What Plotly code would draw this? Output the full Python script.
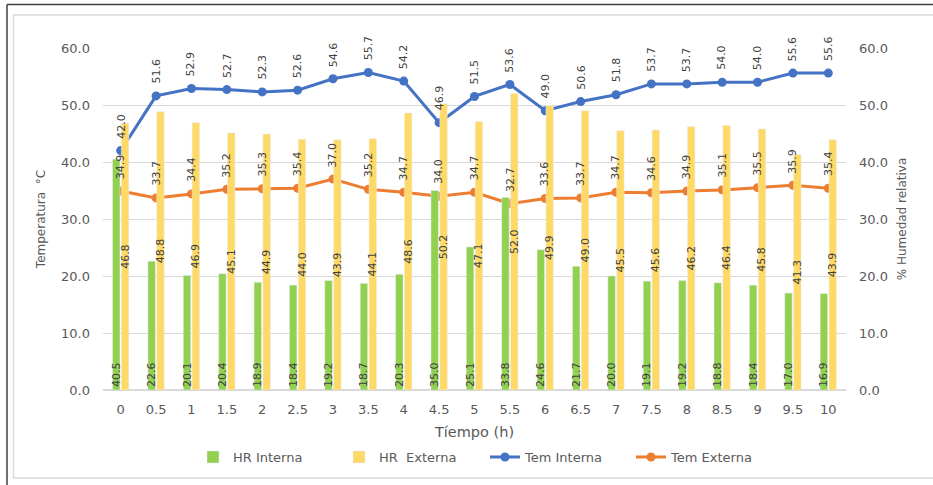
import plotly.graph_objects as go

tiempo = ["0", "0.5", "1", "1.5", "2", "2.5", "3", "3.5", "4", "4.5", "5",
          "5.5", "6", "6.5", "7", "7.5", "8", "8.5", "9", "9.5", "10"]
hr_interna = [40.5, 22.6, 20.1, 20.4, 18.9, 18.4, 19.2, 18.7, 20.3, 35.0, 25.1,
              33.8, 24.6, 21.7, 20.0, 19.1, 19.2, 18.8, 18.4, 17.0, 16.9]
hr_externa = [46.8, 48.8, 46.9, 45.1, 44.9, 44.0, 43.9, 44.1, 48.6, 50.2, 47.1,
              52.0, 49.9, 49.0, 45.5, 45.6, 46.2, 46.4, 45.8, 41.3, 43.9]
tem_interna = [42.0, 51.6, 52.9, 52.7, 52.3, 52.6, 54.6, 55.7, 54.2, 46.9, 51.5,
               53.6, 49.0, 50.6, 51.8, 53.7, 53.7, 54.0, 54.0, 55.6, 55.6]
tem_externa = [34.9, 33.7, 34.4, 35.2, 35.3, 35.4, 37.0, 35.2, 34.7, 34.0, 34.7,
               32.7, 33.6, 33.7, 34.7, 34.6, 34.9, 35.1, 35.5, 35.9, 35.4]

GREEN = "#92D050"
YELLOW = "#FFD966"
BLUE = "#4472C4"
ORANGE = "#ED7D31"
TXT = "#595959"
LBL = "#404040"
FONT = "DejaVu Sans"

fig = go.Figure()

fig.add_trace(go.Bar(
    x=tiempo, y=hr_interna, name="HR Interna", marker_color=GREEN, yaxis="y2",
    text=[f"{v:.1f}" for v in hr_interna], textposition="inside",
    insidetextanchor="start", textangle=-90, constraintext="none",
    insidetextfont=dict(family=FONT, size=11, color=LBL),
))
fig.add_trace(go.Bar(
    x=tiempo, y=hr_externa, name="HR  Externa", marker_color=YELLOW, yaxis="y2",
    text=[f"{v:.1f}" for v in hr_externa], textposition="inside",
    insidetextanchor="middle", textangle=-90, constraintext="none",
    insidetextfont=dict(family=FONT, size=11, color=LBL),
))
fig.add_trace(go.Scatter(
    x=tiempo, y=tem_interna, name="Tem Interna", mode="lines+markers",
    line=dict(color=BLUE, width=3), marker=dict(color=BLUE, size=9),
))
fig.add_trace(go.Scatter(
    x=tiempo, y=tem_externa, name="Tem Externa", mode="lines+markers",
    line=dict(color=ORANGE, width=3), marker=dict(color=ORANGE, size=9),
))

annotations = []
for series in (tem_interna, tem_externa):
    for idx, yv in enumerate(series):
        # category axis: annotation x given as the category index
        annotations.append(dict(
            x=idx, y=yv, xref="x", yref="y", text=f"{yv:.1f}", textangle=-90,
            showarrow=False, yanchor="bottom", xanchor="center", yshift=10,
            font=dict(family=FONT, size=11, color=LBL),
        ))

# frame lines (paper coords)
W, H = 743.0, 342.0
L, T = 103.0, 48.0
def px(xp):
    return (xp - L) / W
def py(yp):
    return (T + H - yp) / H

shapes = [
    dict(type="rect", xref="paper", yref="paper", x0=px(13.5), x1=px(945),
         y0=py(478), y1=py(15), line=dict(color="#D9D9D9", width=1.5),
         fillcolor="rgba(0,0,0,0)", layer="below"),
    dict(type="line", xref="paper", yref="paper", x0=px(7), x1=px(940),
         y0=py(4.5), y1=py(4.5), line=dict(color="#404040", width=1.5)),
    dict(type="line", xref="paper", yref="paper", x0=px(7), x1=px(7),
         y0=py(4.5), y1=py(490), line=dict(color="#404040", width=1.5)),
]

fig.update_layout(
    width=933, height=485,
    margin=dict(l=103, r=87, t=48, b=95, autoexpand=False),
    paper_bgcolor="white", plot_bgcolor="white",
    font=dict(family=FONT, size=13, color=TXT),
    barmode="group", bargap=0.5, bargroupgap=0.16,
    showlegend=True,
    legend=dict(orientation="h", x=px(485), xanchor="center", y=-0.196,
                yanchor="middle", font=dict(family=FONT, size=13, color=TXT),
                itemwidth=30, traceorder="normal",
                entrywidth=101, entrywidthmode="pixels"),
    xaxis=dict(type="category", range=[-0.5, len(tiempo) - 0.5],
               showgrid=False, ticks="", showline=False,
               automargin=False,
               tickfont=dict(size=13, color=TXT), ticklabelstandoff=10,
               title=dict(text="Tíempo (h)", font=dict(size=14.5, color=TXT),
                          standoff=10)),
    yaxis=dict(range=[0, 60], dtick=10, tickformat=".1f", showgrid=True,
               gridcolor="#D9D9D9", gridwidth=1, zeroline=True,
               zerolinecolor="#D9D9D9", showline=False, ticks="",
               automargin=False,
               ticklabelstandoff=12, tickfont=dict(size=13, color=TXT),
               title=dict(text="Temperatura  °C", font=dict(size=12, color=TXT),
                          standoff=12)),
    yaxis2=dict(range=[0, 60], dtick=10, tickformat=".1f", overlaying="y",
                side="right", showgrid=False, zeroline=False, showline=False,
                ticks="", automargin=False,
                ticklabelstandoff=12, tickfont=dict(size=13, color=TXT),
                title=dict(text="% Humedad relativa", font=dict(size=12, color=TXT),
                           standoff=10)),
    annotations=annotations,
    shapes=shapes,
)

fig.write_html("out.html", config={"displayModeBar": False},
               post_script="document.body.style.margin='0px';")
